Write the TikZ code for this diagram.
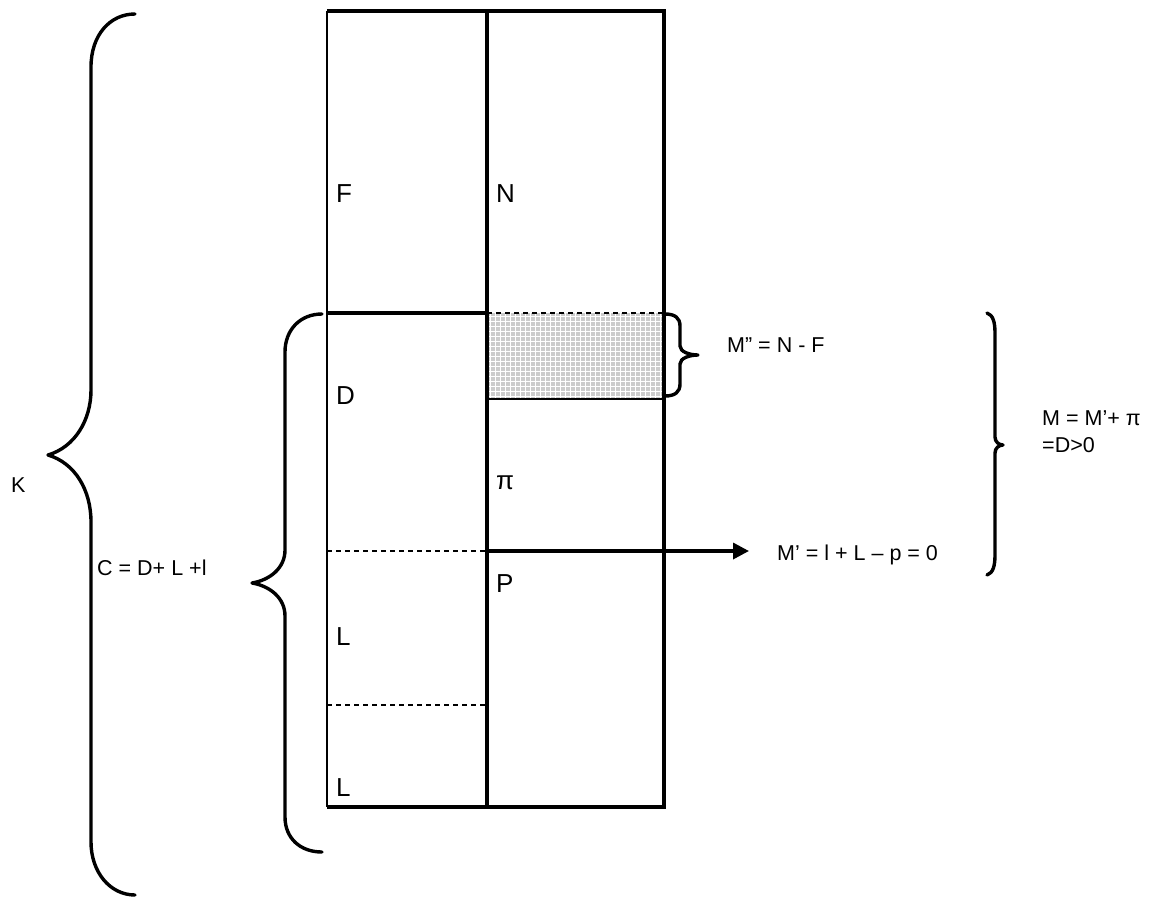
\documentclass[tikz,border=0pt]{standalone}
\usepackage{fontspec}
\setmainfont{Liberation Sans}
\usetikzlibrary{arrows.meta}
\begin{document}
\begin{tikzpicture}[x=1pt,y=-1pt,
  thinline/.style={line width=2pt},
  thickline/.style={line width=3.4pt},
  bracepath/.style={line width=3.4pt, line cap=round, line join=round},
  dashline/.style={line width=1.5pt, dash pattern=on 5pt off 4pt},
  big/.style={inner sep=0pt, anchor=base west, font=\fontsize{26}{30}\selectfont},
  small/.style={inner sep=0pt, anchor=base west, font=\fontsize{21.5}{26}\selectfont}]
\useasboundingbox (0,0) rectangle (1158,897);
% coordinates
\coordinate (tl) at (327,11);  \coordinate (tm) at (487,11);  \coordinate (tr) at (664,11);
\coordinate (bl) at (327,807); \coordinate (bm) at (487,807); \coordinate (br) at (664,807);
\coordinate (dl) at (327,313); \coordinate (dm) at (487,313); \coordinate (dr) at (664,313);
\coordinate (sl) at (487,399); \coordinate (sr) at (664,399);
\coordinate (pl) at (327,551); \coordinate (pm) at (487,551); \coordinate (pr) at (664,551);
\coordinate (ll) at (327,705); \coordinate (lm) at (487,705);
\coordinate (aend) at (749,551);
% shaded region
\fill[black!20] (dm) rectangle (sr);
\foreach \x in {490,495,...,662} \draw[white,line width=1pt] (\x,313) -- (\x,399);
\foreach \y in {316,321,...,398} \draw[white,line width=1pt] (487,\y) -- (664,\y);
% box
\draw[thinline] (tl) -- (bl);
\draw[thickline] (tl) -- (tr) -- (br) -- (bl);
\draw[thickline] (tm) -- (bm);
\draw[thickline] (dl) -- (dm);
\draw[dashline] (dm) -- (dr);
\draw[thinline] (sl) -- (sr);
\draw[thickline] (pm) -- (pr);
\draw[dashline] (pl) -- (pm);
\draw[dashline] (ll) -- (lm);
\draw[thickline, -{Triangle[length=16pt,width=16pt]}] (pr) -- (aend);
% braces
\draw[bracepath] (135,14) .. controls (110,14) and (91,35) .. (91,67) -- (91,390)
  .. controls (91,420) and (75,447) .. (48,455) .. controls (75,463) and (91,490) .. (91,522)
  -- (91,842) .. controls (91,872) and (110,895) .. (135,895);
\draw[bracepath] (322,314) .. controls (300,314) and (285,330) .. (285,352) -- (285,550)
  .. controls (285,568) and (270,580) .. (252,583) .. controls (270,586) and (285,598) .. (285,616)
  -- (285,817) .. controls (285,838) and (300,852) .. (322,852);
\draw[bracepath] (665,314) .. controls (675,314) and (680,318) .. (680,326) -- (680,346)
  .. controls (680,352) and (690,355) .. (698,355) .. controls (690,355) and (680,358) .. (680,364)
  -- (680,384) .. controls (680,392) and (675,396) .. (665,396);
\draw[bracepath] (987,313) .. controls (993,315) and (995,322) .. (995,333) -- (995,437)
  .. controls (995,442) and (999,445) .. (1003,445) .. controls (999,445) and (995,448) .. (995,453)
  -- (995,555) .. controls (995,566) and (993,573) .. (987,575);
% labels
\node[big] (F) at (336,202) {F};
\node[big] (N) at (496,202) {N};
\node[big] (D) at (336,404) {D};
\node[big] (pi) at (496,489) {π};
\node[big] (P) at (496,592) {P};
\node[big] (L1) at (336,645) {L};
\node[big] (L2) at (336,796) {L};
\node[small] (K) at (11,492) {K};
\node[small] (C) at (97,575) {C = D+ L +l};
\node[small] (Mpp) at (727,352) {M” = N - F};
\node[small] (Mp) at (777,560) {M’ = l + L – p = 0};
\node[small] (M1) at (1042,425) {M = M’+ π};
\node[small] (M2) at (1042,452) {=D>0};
\end{tikzpicture}
\end{document}
